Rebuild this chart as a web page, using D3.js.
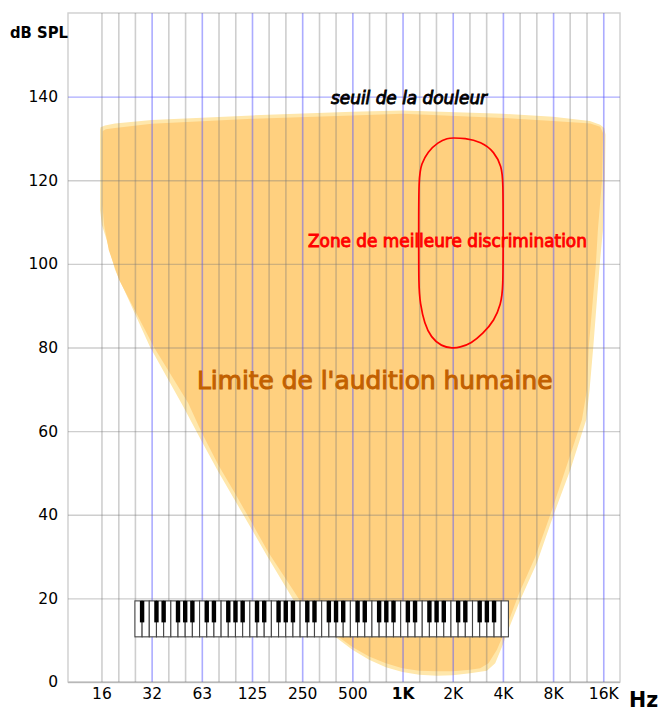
<!DOCTYPE html>
<html>
<head>
<meta charset="utf-8">
<script src="https://cdn.jsdelivr.net/npm/d3@7"></script>
<style>
  html, body { margin: 0; padding: 0; background: #fff; overflow: hidden; }
  text { font-family: "DejaVu Sans", sans-serif; }
</style>
</head>
<body>
<div id="chart"></div>
<script>
// octave lines, in Hz, and what is printed under them
const octaveHz = [16, 32, 64, 128, 256, 512, 1024, 2048, 4096, 8192, 16384];
const octaveLabels = ['16', '32', '63', '125', '250', '500', '1K', '2K', '4K', '8K', '16K'];
const thirdOctaveHz = [20.2, 25.4, 40.3, 50.8, 80.6, 101.6, 161, 203, 323, 406, 645, 813, 1290, 1625, 2580, 3250, 5160, 6500, 10300, 13000];
const dbTicks = [0, 20, 40, 60, 80, 100, 120, 140];

// limit of hearing, as [Hz, dB SPL]; the pale band and the orange body
const hearingOuter = [
  [15.8, 132.7], [16.8, 133.1], [19.3, 133.6], [32, 134.4], [128, 135.5], [512, 136.4], [1024, 136.7],
  [4096, 135.9], [8192, 135.2], [13600, 134.2], [15700, 133.3], [16600, 132.5], [16900, 130.9], [16750, 120],
  [16300, 108], [15600, 100], [14270, 80.1], [13560, 69.9], [12950, 62.7], [10385, 50.7], [8325, 40.4],
  [6553, 28.5], [5203, 19.6], [4488, 13.2], [4040, 8.4], [3682, 4.5], [3283, 2.7], [2607, 2.1],
  [2048, 1.6], [1645, 1.5], [1288, 1.75], [1022, 2.4], [813, 3.5], [645, 5.3], [512, 7.7], [413, 10.5],
  [227, 19.6], [160, 29.7], [128, 36.4], [80.4, 50.3], [64, 57.5], [49.5, 65.9], [31.3, 80.1],
  [19.3, 98.6], [17.2, 105.7], [16.1, 109.3], [15.7, 112.9], [15.7, 132]
];
const hearingInner = [
  [16.3, 131.8], [17, 132.2], [19.3, 132.5], [32, 133.5], [128, 134.7], [512, 135.5], [1024, 135.9],
  [4096, 134.9], [8192, 134.2], [13700, 133.6], [15700, 132.8], [16320, 131.3], [16100, 120],
  [15200, 108], [14800, 100], [13400, 80], [13080, 69.9], [12200, 62.7], [9920, 51.9], [8060, 41.1],
  [6400, 29.9], [5130, 21.3], [4230, 12.4], [3770, 7.7], [3357, 4.5], [2992, 3.3], [2607, 2.9],
  [2048, 2.6], [1645, 2.6], [1288, 2.7], [1022, 3.3], [813, 4.5], [645, 6.1], [512, 8.4], [432, 10.5],
  [247, 19.6], [160, 31.1], [128, 38], [101, 45.2], [80.4, 51.9], [64, 59.6], [53, 66.7], [33, 80.1],
  [20.4, 96.2], [17.7, 103.3], [16.6, 109.3], [16.2, 114.1], [16.2, 129.7]
];
// best discrimination zone
const bestZone = [
  [2048, 130.1], [2408, 130.1], [3033, 129.2], [3645, 126.8], [4020, 123.2], [4110, 120], [4110, 107], [4110, 93.8],
  [3980, 90.5], [3640, 86.4], [3100, 83.3], [2650, 81], [2250, 80], [2048, 79.8], [1745, 80.3],
  [1520, 82.4], [1385, 85.7], [1305, 90.7], [1280, 94.5], [1280, 107], [1280, 120.8], [1328, 123.9],
  [1450, 126.8], [1668, 129.1], [1915, 130.1]
];

// piano keyboard
const pianoHz = [25.4, 4420];
const pianoDb = [10.8, 19.4];
const whiteKeyCount = 52;
const whiteNotes = ['A', 'B', 'C', 'D', 'E', 'F', 'G'];
const notesWithSharp = ['A', 'C', 'D', 'F', 'G'];

const config = {
  width: 662,
  height: 708,
  margin: { top: 13, right: 42, bottom: 26, left: 68 }
};

const svg = d3.select('#chart').append('svg')
  .attr('width', config.width)
  .attr('height', config.height)
  .style('display', 'block');

const x = d3.scaleLog()
  .domain([16 * Math.pow(2, -2 / 3), 16 * Math.pow(2, 10 + 1 / 3)])
  .range([config.margin.left, config.width - config.margin.right]);

const y = d3.scaleLinear()
  .domain([0, 160])
  .range([config.height - config.margin.bottom, config.margin.top]);

const plotH = y(0) - y(160);
const plotW = x.range()[1] - x.range()[0];

const line = d3.line().x(d => x(d[0])).y(d => y(d[1]));

// Hearing area
svg.append('path')
  .attr('d', line.curve(d3.curveLinearClosed)(hearingOuter))
  .attr('fill', '#ffe7ab');
svg.append('path')
  .attr('d', line.curve(d3.curveLinearClosed)(hearingInner))
  .attr('fill', '#ffd07f');

// Grid, drawn over the area so it shows through
const gray = 'rgba(120,120,120,0.36)';
const blue = 'rgba(90,90,255,0.5)';

const minorAxis = svg.append('g')
  .attr('transform', `translate(0,${y(0)})`)
  .call(d3.axisBottom(x).tickValues(thirdOctaveHz).tickFormat('').tickSize(-plotH));
minorAxis.select('.domain').remove();
minorAxis.selectAll('line').attr('stroke', gray).attr('stroke-width', 1.6);

const xAxis = svg.append('g')
  .attr('transform', `translate(0,${y(0)})`)
  .call(d3.axisBottom(x).tickValues(octaveHz).tickFormat((d, i) => octaveLabels[i]).tickSize(-plotH));
xAxis.select('.domain').remove();
xAxis.selectAll('line').attr('stroke', blue).attr('stroke-width', 1.6);
xAxis.selectAll('line').filter((d, i) => i === 0).attr('stroke', gray);
xAxis.selectAll('text')
  .attr('y', 2.5)
  .attr('dy', '0.95em')
  .attr('fill', '#000')
  .attr('font-size', 15.5)
  .attr('font-weight', d => d === 1024 ? 'bold' : 'normal');

const yAxis = svg.append('g')
  .attr('transform', `translate(${config.margin.left},0)`)
  .call(d3.axisLeft(y).tickValues(dbTicks).tickSize(-plotW).tickPadding(10));
yAxis.select('.domain').remove();
yAxis.selectAll('line')
  .attr('stroke', d => d === 140 ? blue : gray)
  .attr('stroke-width', 1.4);
yAxis.selectAll('text').attr('fill', '#000').attr('font-size', 15.5);

// Frame
svg.append('rect')
  .attr('x', x.range()[0])
  .attr('y', y(160))
  .attr('width', plotW)
  .attr('height', plotH)
  .attr('fill', 'none')
  .attr('stroke', gray)
  .attr('stroke-width', 1.4);

// Best discrimination zone
svg.append('path')
  .attr('d', line.curve(d3.curveBasisClosed)(bestZone))
  .attr('fill', 'none')
  .attr('stroke', '#ff0000')
  .attr('stroke-width', 1.7);

// Piano
const keyX = d3.scaleLinear()
  .domain([0, whiteKeyCount])
  .range([x(pianoHz[0]), x(pianoHz[1])]);
const keyTop = y(pianoDb[1]);
const keyBottom = y(pianoDb[0]);
const keyIds = d3.range(whiteKeyCount);

const piano = svg.append('g');
piano.selectAll('rect.white')
  .data(keyIds)
  .enter()
  .append('rect')
  .attr('class', 'white')
  .attr('x', d => keyX(d))
  .attr('y', keyTop)
  .attr('width', keyX(1) - keyX(0))
  .attr('height', keyBottom - keyTop)
  .attr('fill', '#fff')
  .attr('stroke', '#444')
  .attr('stroke-width', 1.1);
piano.selectAll('rect.black')
  .data(keyIds.slice(0, -1).filter(d => notesWithSharp.includes(whiteNotes[d % 7])))
  .enter()
  .append('rect')
  .attr('class', 'black')
  .attr('x', d => keyX(d + 1) - 2.2)
  .attr('y', keyTop)
  .attr('width', 4.4)
  .attr('height', 21.5)
  .attr('fill', '#000');

// Labels
function label(text, px, py, size, color, extra) {
  const t = svg.append('text')
    .attr('x', px)
    .attr('y', py)
    .attr('font-size', size)
    .attr('fill', color)
    .text(text);
  if (extra) extra(t);
  return t;
}

label('dB SPL', 10, 38, 15.5, '#000', t => t.attr('font-weight', 'bold').attr('textLength', 58).attr('lengthAdjust', 'spacingAndGlyphs'));
label('Hz', 629, 707, 20.5, '#000', t => t.attr('font-weight', 'bold'));
label('seuil de la douleur', 331, 104, 16.9, '#000', t => t.attr('font-style', 'italic').attr('stroke', '#000').attr('stroke-width', 0.9));
label('Zone de meilleure discrimination', 308, 247, 16.9, '#ff0000', t => t.attr('stroke', '#ff0000').attr('stroke-width', 0.9));
label("Limite de l'audition humaine", 197, 389, 24.85, '#c26000', t => t.attr('stroke', '#c26000').attr('stroke-width', 1));
</script>
</body>
</html>
